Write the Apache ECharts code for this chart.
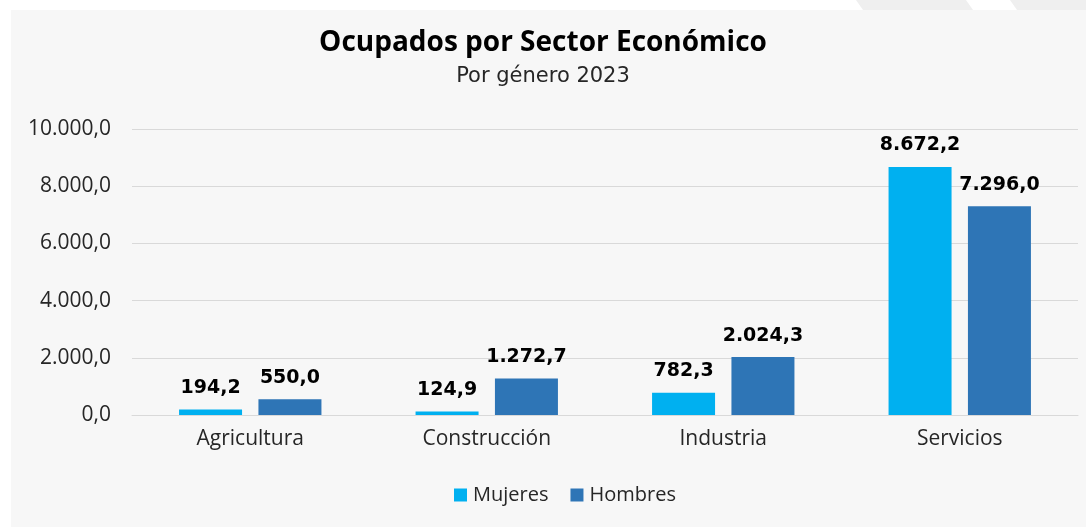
<!DOCTYPE html>
<html><head><meta charset="utf-8">
<script src="https://cdn.jsdelivr.net/npm/echarts@6/dist/echarts.min.js"></script>
<style>
html,body{margin:0;padding:0;background:#fff;}
#panel{position:absolute;left:11px;top:10px;width:1075px;height:517px;background:#f7f7f7;}
#chart{position:absolute;left:0;top:0;width:1086px;height:527px;}
</style></head>
<body>
<div id="panel"></div>
<div id="chart"></div>
<script>
const categories = ['Agricultura', 'Construcción', 'Industria', 'Servicios'];
const mujeres = [194.2, 124.9, 782.3, 8672.2];
const hombres = [550.0, 1272.7, 2024.3, 7296.0];
const seriesNames = ['Mujeres', 'Hombres'];
const yTicks = [0, 2000, 4000, 6000, 8000, 10000];

function fmt(v) {
  const s = Number(v).toFixed(1);
  const [i, d] = s.split('.');
  return i.replace(/\B(?=(\d{3})+(?!\d))/g, '.') + ',' + d;
}
const FONT = '"Open Sans", "Noto Sans", sans-serif';
const FONT2 = '"DejaVu Sans", sans-serif';
const chart = echarts.init(document.getElementById('chart'));
const lbl = { show: true, position: 'top', distance: 12, formatter: p => fmt(p.value),
  fontFamily: FONT2, fontSize: 19, fontWeight: 'bold', color: '#000' };
chart.setOption({
  backgroundColor: 'transparent',
  animation: false,
  textStyle: { fontFamily: FONT },
  graphic: [
    { type: 'polygon', shape: { points: [[856, 0], [966, 0], [973, 10], [863, 10]] }, style: { fill: '#efefef' } },
    { type: 'polygon', shape: { points: [[1010, 0], [1086, 0], [1086, 10], [1017, 10]] }, style: { fill: '#efefef' } }
  ],
  title: {
    text: 'Ocupados por Sector Económico',
    subtext: 'Por género 2023',
    left: 'center', top: 24, itemGap: 9,
    textStyle: { fontFamily: FONT, fontSize: 28, fontWeight: 'bold', color: '#000' },
    subtextStyle: { fontFamily: FONT2, fontSize: 21, color: '#262626' }
  },
  legend: {
    data: seriesNames, top: 480, left: 449,
    icon: 'rect', itemWidth: 13, itemHeight: 13, itemGap: 22,
    textStyle: { fontFamily: FONT, fontSize: 20, color: '#262626', padding: [0, 0, 0, 1] }
  },
  grid: { left: 132, right: 8, top: 129, bottom: 112, containLabel: false },
  xAxis: {
    type: 'category', data: categories,
    axisLine: { show: true, lineStyle: { color: '#d9d9d9', width: 1 } },
    axisTick: { show: false },
    axisLabel: { fontFamily: FONT, fontSize: 21, color: '#262626', margin: 14 }
  },
  yAxis: {
    type: 'value', min: yTicks[0], max: yTicks[yTicks.length - 1], interval: 2000,
    axisLine: { show: false }, axisTick: { show: false },
    splitLine: { lineStyle: { color: '#d9d9d9', width: 1 } },
    axisLabel: { fontFamily: FONT, fontSize: 21, color: '#262626', margin: 21, formatter: fmt }
  },
  series: [
    {
      name: seriesNames[0], type: 'bar', data: mujeres, barWidth: 63, barGap: '26%',
      itemStyle: { color: '#00b0f0' }, label: lbl
    },
    {
      name: seriesNames[1], type: 'bar', data: hombres, barWidth: 63,
      itemStyle: { color: '#2e75b6' }, label: lbl
    }
  ]
});
</script>
</body></html>
